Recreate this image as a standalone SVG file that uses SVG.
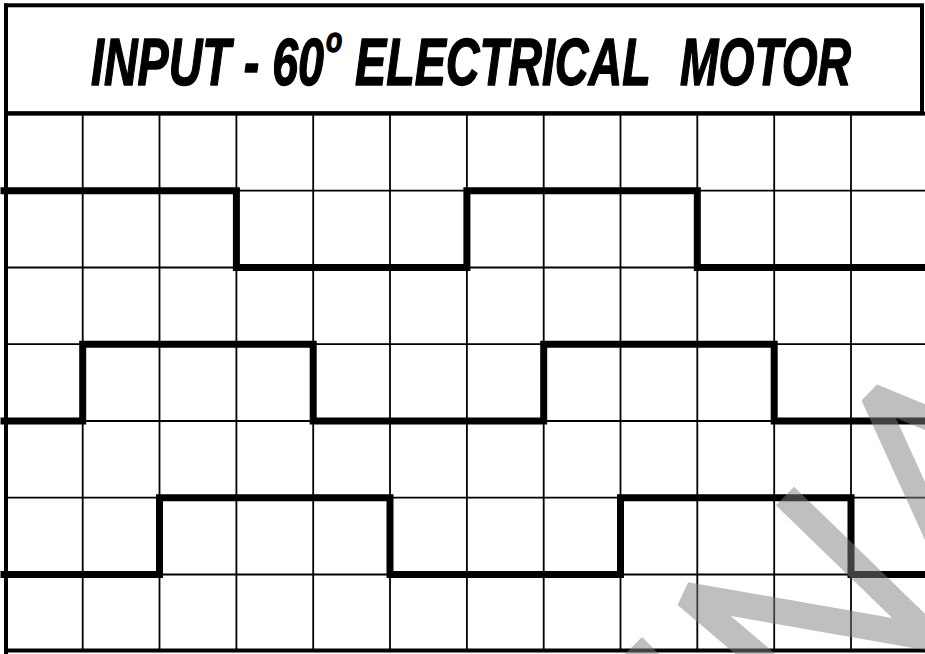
<svg xmlns="http://www.w3.org/2000/svg" width="925" height="654" viewBox="0 0 925 654">
<style>
.frame{fill:none;stroke:#000;stroke-width:4}
.grid{stroke:#000;stroke-width:1.8;fill:none}
.wave{stroke:#000;stroke-width:7;fill:none;stroke-linejoin:miter;stroke-linecap:square}
.title{font-family:"Liberation Sans",Arial,sans-serif;font-weight:bold;font-style:italic;fill:#000;stroke:#000;stroke-width:1.4;stroke-linejoin:round}
.wm{fill:none;stroke:#808080;stroke-opacity:0.5;stroke-linejoin:bevel;stroke-linecap:butt}
</style>
<rect width="925" height="654" fill="#fff"/>
<g id="title">
<rect class="frame" x="6" y="5.3" width="916" height="108"/>
<text class="title" transform="translate(91 85) scale(0.706 1)" font-size="66">INPUT - 60</text>
<text class="title" transform="translate(326 52) scale(0.74 1)" font-size="36">o</text>
<text class="title" transform="translate(355 85) scale(0.708 1)" font-size="66">ELECTRICAL</text>
<text class="title" transform="translate(680 85) scale(0.7 1)" font-size="66">MOTOR</text>
</g>
<g id="grid">
<path class="grid" d="M82.7 114V651 M159.5 114V651 M236.4 114V651 M313.2 114V651 M390 114V651 M466.9 114V651 M543.7 114V651 M620.5 114V651 M697.3 114V651 M774.2 114V651 M851 114V651"/>
<path class="grid" d="M6 190.7H925 M6 267.5H925 M6 344.2H925 M6 421H925 M6 497.7H925 M6 574.5H925"/>
<path class="frame" d="M4 113.5H925 M6 3.5V654 M4 650.5H925"/>
</g>
<g id="connectors">
<path id="wave1" class="wave" d="M4 190.7H236.4V267.5H466.9V190.7H697.3V267.5H930"/>
<path id="wave2" class="wave" d="M4 421H82.7V344.2H313.2V421H543.7V344.2H774.2V421H930"/>
<path id="wave3" class="wave" d="M4 574.5H159.5V497.7H390V574.5H620.5V497.7H851V574.5H930"/>
</g>
<g id="watermark">
<path class="wm" stroke-width="24" d="M972.5 436.6L872.5 395.6L950 566"/>
<path class="wm" stroke-width="26" d="M785 496L931.4 638L686 595L780 675"/>
<path class="wm" stroke-width="24" d="M633.5 645.5L663 675"/>
</g>
</svg>
